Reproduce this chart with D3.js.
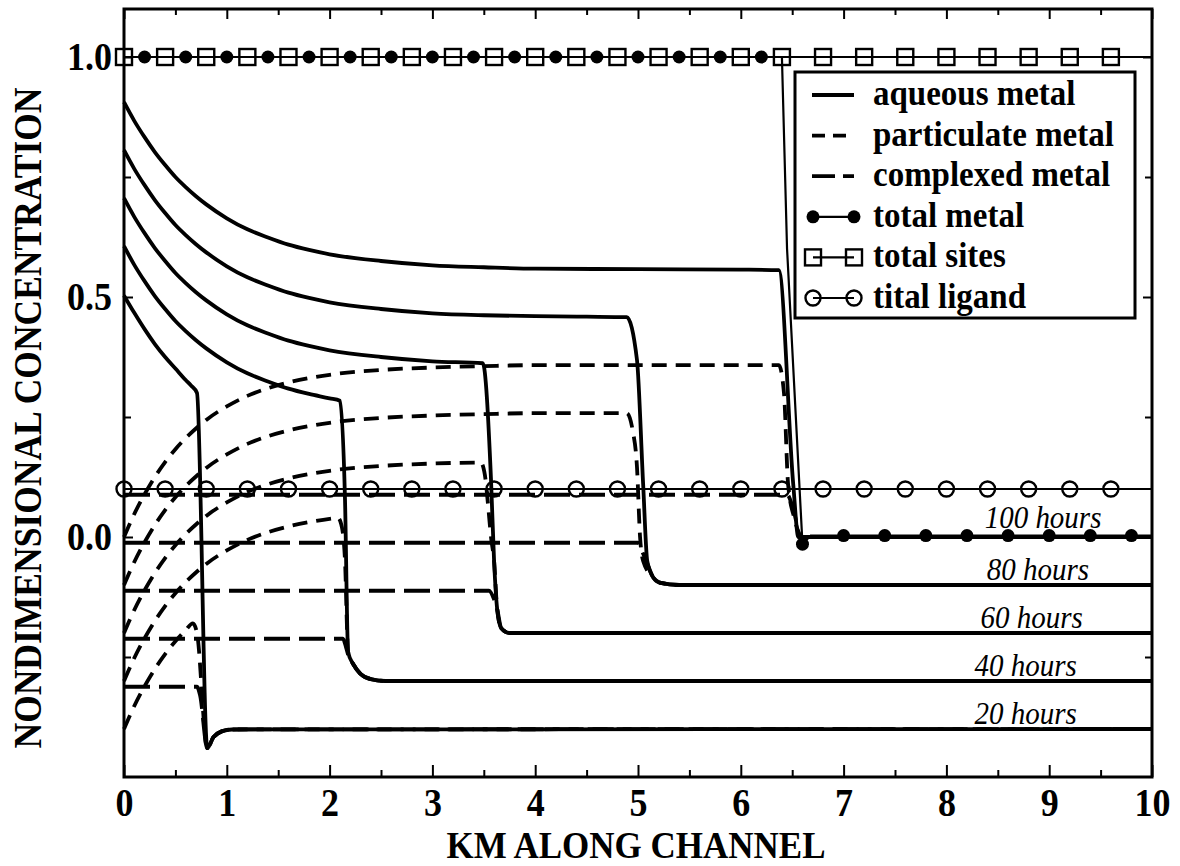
<!DOCTYPE html>
<html>
<head>
<meta charset="utf-8">
<script src="https://cdnjs.cloudflare.com/ajax/libs/d3/7.8.5/d3.min.js"></script>
<style>
  body { margin: 0; background: #fff; }
  svg text { font-family: "Liberation Serif", "Times New Roman", serif; fill: #000; }
</style>
</head>
<body>
<svg id="chart" width="1180" height="866"></svg>
<script>
// ---- data: [km along channel, nondimensional concentration] ----
const hours = ["100 hours", "80 hours", "60 hours", "40 hours", "20 hours"];
const tailLevels = [0.0, -0.1, -0.2, -0.3, -0.4];
const labelKm = [8.94, 8.89, 8.83, 8.77, 8.77];

const aqueous100 = [[0,0.906],[0.1,0.867],[0.2,0.833],[0.3,0.802],[0.4,0.775],[0.5,0.75],[0.6,0.729],[0.7,0.71],[0.8,0.693],[1.0,0.664],[1.2,0.641],[1.4,0.624],[1.6,0.609],[1.8,0.598],[2.0,0.589],[2.5,0.575],[3.0,0.566],[3.5,0.562],[4.0,0.559],[5.0,0.558],[6.0,0.557],[6.37,0.556],[6.51,0.11],[6.56,0.0],[10,0.0]];
const aqueous80 = [[0,0.806],[0.1,0.767],[0.2,0.733],[0.3,0.702],[0.4,0.675],[0.5,0.65],[0.6,0.629],[0.7,0.61],[0.8,0.593],[1.0,0.564],[1.2,0.541],[1.4,0.524],[1.6,0.509],[1.8,0.498],[2.0,0.489],[2.5,0.475],[3.0,0.466],[3.5,0.462],[4.0,0.46],[4.5,0.459],[4.89,0.458],[4.99,0.369],[5.05,0.11],[5.09,-0.05],[5.15,-0.085],[5.21,-0.095],[5.4,-0.1],[10,-0.1]];
const aqueous60 = [[0,0.706],[0.1,0.667],[0.2,0.633],[0.3,0.602],[0.4,0.575],[0.5,0.55],[0.6,0.529],[0.7,0.51],[0.8,0.493],[1.0,0.464],[1.2,0.441],[1.4,0.424],[1.6,0.409],[1.8,0.398],[2.0,0.389],[2.5,0.375],[3.0,0.366],[3.49,0.362],[3.57,0.12],[3.6,-0.05],[3.63,-0.15],[3.67,-0.19],[3.75,-0.2],[10,-0.2]];
const aqueous40 = [[0,0.606],[0.1,0.567],[0.2,0.533],[0.3,0.502],[0.4,0.475],[0.5,0.45],[0.6,0.429],[0.7,0.41],[0.8,0.393],[1.0,0.364],[1.2,0.341],[1.4,0.324],[1.6,0.309],[1.8,0.298],[2.0,0.289],[2.1,0.284],[2.15,0.077],[2.18,-0.24],[2.23,-0.265],[2.3,-0.285],[2.4,-0.296],[2.55,-0.3],[10,-0.3]];
const aqueous20 = [[0,0.503],[0.1,0.467],[0.2,0.433],[0.3,0.402],[0.4,0.375],[0.5,0.351],[0.6,0.327],[0.65,0.316],[0.71,0.3],[0.81,-0.44],[0.87,-0.417],[0.95,-0.405],[1.05,-0.401],[10,-0.4]];

const particulate100 = [[0,0.0],[0.1,0.048],[0.2,0.089],[0.3,0.125],[0.4,0.156],[0.5,0.183],[0.6,0.206],[0.7,0.226],[0.8,0.244],[1.0,0.272],[1.2,0.294],[1.4,0.31],[1.6,0.322],[1.8,0.331],[2.0,0.338],[2.5,0.348],[3.0,0.353],[3.5,0.356],[4.0,0.358],[5.0,0.358],[6.0,0.358],[6.37,0.358],[6.42,0.3],[6.46,0.11],[6.52,0.04],[6.6,0.0],[10,0.0]];
const particulate80 = [[0,-0.1],[0.1,-0.052],[0.2,-0.011],[0.3,0.025],[0.4,0.056],[0.5,0.083],[0.6,0.106],[0.7,0.126],[0.8,0.144],[1.0,0.172],[1.2,0.194],[1.4,0.21],[1.6,0.222],[1.8,0.231],[2.0,0.238],[2.5,0.248],[3.0,0.253],[3.5,0.256],[4.0,0.258],[4.5,0.258],[4.89,0.258],[4.95,0.22],[4.99,0.146],[5.02,0.0],[5.05,-0.05],[5.15,-0.085],[5.21,-0.095],[5.4,-0.1],[10,-0.1]];
const particulate60 = [[0,-0.2],[0.1,-0.152],[0.2,-0.111],[0.3,-0.075],[0.4,-0.044],[0.5,-0.017],[0.6,0.006],[0.7,0.026],[0.8,0.044],[1.0,0.072],[1.2,0.094],[1.4,0.11],[1.6,0.122],[1.8,0.131],[2.0,0.138],[2.5,0.148],[3.0,0.153],[3.47,0.155],[3.51,0.13],[3.54,0.07],[3.57,0.0],[3.6,-0.05],[3.63,-0.15],[3.67,-0.19],[3.75,-0.2],[10,-0.2]];
const particulate40 = [[0,-0.3],[0.1,-0.252],[0.2,-0.211],[0.3,-0.175],[0.4,-0.144],[0.5,-0.117],[0.6,-0.094],[0.7,-0.074],[0.8,-0.056],[1.0,-0.028],[1.2,-0.006],[1.4,0.01],[1.6,0.022],[1.8,0.031],[2.0,0.038],[2.08,0.04],[2.12,0.02],[2.15,-0.05],[2.18,-0.24],[2.23,-0.265],[2.3,-0.285],[2.4,-0.296],[2.55,-0.3],[10,-0.3]];
const particulate20 = [[0,-0.4],[0.1,-0.352],[0.2,-0.311],[0.3,-0.275],[0.4,-0.244],[0.5,-0.217],[0.6,-0.194],[0.67,-0.18],[0.71,-0.2],[0.81,-0.44],[0.87,-0.417],[0.95,-0.405],[1.05,-0.401],[10,-0.4]];

const complexed100 = [[0,0.088],[6.45,0.088],[6.52,0.05],[6.58,0.0],[10,0.0]];
const complexed80 = [[0,-0.012],[5.0,-0.012],[5.04,-0.03],[5.08,-0.05],[5.15,-0.085],[5.21,-0.095],[5.4,-0.1],[10,-0.1]];
const complexed60 = [[0,-0.112],[3.55,-0.112],[3.6,-0.13],[3.63,-0.15],[3.67,-0.19],[3.75,-0.2],[10,-0.2]];
const complexed40 = [[0,-0.212],[2.13,-0.212],[2.16,-0.23],[2.18,-0.245],[2.23,-0.265],[2.3,-0.285],[2.4,-0.296],[2.55,-0.3],[10,-0.3]];
const complexed20 = [[0,-0.312],[0.71,-0.312],[0.74,-0.33],[0.81,-0.44],[0.87,-0.417],[0.95,-0.405],[1.05,-0.401],[10,-0.4]];

const totalMetalLine = [[0,1.0],[6.4,1.0],[6.45,0.6],[6.6,-0.015],[6.68,0.003],[10,0.003]];
const totalMetalDots = [[0.2,1],[0.6,1],[1.0,1],[1.4,1],[1.8,1],[2.2,1],[2.6,1],[3.0,1],[3.4,1],[3.8,1],[4.2,1],[4.6,1],[5.0,1],[5.4,1],[5.8,1],[6.2,1],
  [6.6,-0.015],[7.0,0.003],[7.4,0.003],[7.8,0.003],[8.2,0.003],[8.6,0.003],[9.0,0.003],[9.4,0.003],[9.8,0.003]];
const totalSitesLine = [[0,1.0],[10,1.0]];
const totalSitesMarks = [0,0.4,0.8,1.2,1.6,2.0,2.4,2.8,3.2,3.6,4.0,4.4,4.8,5.2,5.6,6.0,6.4,6.8,7.2,7.6,8.0,8.4,8.8,9.2,9.6];
const totalSitesLevel = 1.0;
const totalLigandLine = [[0,0.1],[10,0.1]];
const totalLigandMarks = [0,0.4,0.8,1.2,1.6,2.0,2.4,2.8,3.2,3.6,4.0,4.4,4.8,5.2,5.6,6.0,6.4,6.8,7.2,7.6,8.0,8.4,8.8,9.2,9.6];
const totalLigandLevel = 0.1;

const aqueousSeries = [aqueous100, aqueous80, aqueous60, aqueous40, aqueous20];
const particulateSeries = [particulate100, particulate80, particulate60, particulate40, particulate20];
const complexedSeries = [complexed100, complexed80, complexed60, complexed40, complexed20];

const xTicks = [0,1,2,3,4,5,6,7,8,9,10];
const xMinorTicks = [0.5,1.5,2.5,3.5,4.5,5.5,6.5,7.5,8.5,9.5];
const yTicks = [0.0, 0.5, 1.0];
const yMinorTicks = [-0.25, 0.25, 0.75];
const legendLabels = ["aqueous metal", "particulate metal", "complexed metal", "total metal", "total sites", "tital ligand"];

// ---- layout ----
const W = 1180, H = 866;
const plot = { left: 124, right: 1152, top: 9, bottom: 777 };
const SERIF = '"Liberation Serif", "Times New Roman", serif';
const svg = d3.select("#chart");
svg.append("rect").attr("width", W).attr("height", H).attr("fill", "#fff");

const x = d3.scaleLinear().domain([0, 10]).range([plot.left, plot.right]);
const y = d3.scaleLinear().domain([-0.5, 1.1]).range([plot.bottom, plot.top]);

const smooth = d3.line().x(d => x(d[0])).y(d => y(d[1])).curve(d3.curveMonotoneX);
const straight = d3.line().x(d => x(d[0])).y(d => y(d[1]));

const STROKE = 3.8;
const DASH_PART = "15,9";
const DASH_COMP = "26,9";

const g = svg.append("g");

// total sites and total ligand reference lines
g.append("path").attr("d", straight(totalSitesLine)).attr("fill", "none").attr("stroke", "#000").attr("stroke-width", 2.2);
g.append("path").attr("d", straight(totalLigandLine)).attr("fill", "none").attr("stroke", "#000").attr("stroke-width", 2.2);

// complexed metal (long dash)
g.selectAll("path.comp").data(complexedSeries).join("path").attr("class", "comp")
  .attr("d", smooth).attr("fill", "none").attr("stroke", "#000")
  .attr("stroke-width", STROKE).attr("stroke-dasharray", DASH_COMP);

// particulate metal (short dash)
g.selectAll("path.part").data(particulateSeries).join("path").attr("class", "part")
  .attr("d", smooth).attr("fill", "none").attr("stroke", "#000")
  .attr("stroke-width", STROKE).attr("stroke-dasharray", DASH_PART);

// aqueous metal (solid)
g.selectAll("path.aq").data(aqueousSeries).join("path").attr("class", "aq")
  .attr("d", smooth).attr("fill", "none").attr("stroke", "#000")
  .attr("stroke-width", STROKE).attr("stroke-linejoin", "round");

// total metal
g.append("path").attr("d", straight(totalMetalLine)).attr("fill", "none")
  .attr("stroke", "#000").attr("stroke-width", 2.2);
g.selectAll("circle.tm").data(totalMetalDots).join("circle").attr("class", "tm")
  .attr("cx", d => x(d[0])).attr("cy", d => y(d[1])).attr("r", 6.5).attr("fill", "#000");

// total sites (open squares)
const SQ = 16;
g.selectAll("rect.ts").data(totalSitesMarks).join("rect").attr("class", "ts")
  .attr("x", d => x(d) - SQ / 2).attr("y", y(totalSitesLevel) - SQ / 2)
  .attr("width", SQ).attr("height", SQ)
  .attr("fill", "none").attr("stroke", "#000").attr("stroke-width", 2.4);

// total ligand (open circles)
g.selectAll("circle.tl").data(totalLigandMarks).join("circle").attr("class", "tl")
  .attr("cx", d => x(d)).attr("cy", y(totalLigandLevel)).attr("r", 7.5)
  .attr("fill", "none").attr("stroke", "#000").attr("stroke-width", 2.4);

// time labels on the downstream plateaus
g.selectAll("g.hr").data(hours).join("g").attr("class", "hr")
  .attr("transform", (d, i) => `translate(${x(labelKm[i])},${y(tailLevels[i]) - (i === 0 ? 9 : 5)})`)
  .append("text").attr("transform", "scale(1,1.08)")
  .attr("text-anchor", "middle").attr("font-style", "italic")
  .attr("font-size", 29).text(d => d);

// ---- axes ----
const axes = svg.append("g");
function styleAxis(sel) {
  sel.select(".domain").remove();
  sel.selectAll(".tick line").attr("stroke", "#000").attr("stroke-width", 2);
}
const tickFont = sel => sel.selectAll("text").attr("font-family", SERIF)
  .attr("font-weight", "bold").attr("font-size", 36).attr("fill", "#000")
  .attr("transform", "scale(1,1.1)");

axes.append("g").attr("transform", `translate(0,${plot.bottom})`)
  .call(d3.axisBottom(x).tickValues(xTicks).tickSize(-12).tickPadding(10).tickFormat(d3.format("d")))
  .call(styleAxis).call(tickFont);
axes.append("g").attr("transform", `translate(0,${plot.bottom})`)
  .call(d3.axisBottom(x).tickValues(xMinorTicks).tickSize(-7).tickFormat(""))
  .call(styleAxis);
axes.append("g").attr("transform", `translate(0,${plot.top})`)
  .call(d3.axisTop(x).tickValues(xTicks).tickSize(-10).tickFormat(""))
  .call(styleAxis);
axes.append("g").attr("transform", `translate(0,${plot.top})`)
  .call(d3.axisTop(x).tickValues(xMinorTicks).tickSize(-6).tickFormat(""))
  .call(styleAxis);

axes.append("g").attr("transform", `translate(${plot.left},0)`)
  .call(d3.axisLeft(y).tickValues(yTicks).tickSize(-9).tickPadding(12).tickFormat(d3.format(".1f")))
  .call(styleAxis).call(tickFont);
axes.append("g").attr("transform", `translate(${plot.left},0)`)
  .call(d3.axisLeft(y).tickValues(yMinorTicks).tickSize(-7).tickFormat(""))
  .call(styleAxis);
axes.append("g").attr("transform", `translate(${plot.right},0)`)
  .call(d3.axisRight(y).tickValues(yTicks).tickSize(-9).tickFormat(""))
  .call(styleAxis);
axes.append("g").attr("transform", `translate(${plot.right},0)`)
  .call(d3.axisRight(y).tickValues(yMinorTicks).tickSize(-7).tickFormat(""))
  .call(styleAxis);

// frame
axes.append("rect").attr("x", plot.left).attr("y", plot.top)
  .attr("width", plot.right - plot.left).attr("height", plot.bottom - plot.top)
  .attr("fill", "none").attr("stroke", "#000").attr("stroke-width", 3);

// axis titles
svg.append("g").attr("transform", `translate(636,858)`)
  .append("text").attr("transform", "scale(1,1.1)")
  .attr("text-anchor", "middle").attr("font-weight", "bold").attr("font-size", 35)
  .text("KM ALONG CHANNEL");
svg.append("g").attr("transform", `translate(27,418) rotate(-90)`)
  .append("text").attr("transform", "scale(1,1.15)").attr("dy", "0.35em")
  .attr("text-anchor", "middle").attr("font-weight", "bold").attr("font-size", 35.5)
  .text("NONDIMENSIONAL CONCENTRATION");

// ---- legend ----
const lg = svg.append("g");
const box = { x: 795, y: 72, w: 340, h: 246 };
lg.append("rect").attr("x", box.x).attr("y", box.y).attr("width", box.w).attr("height", box.h)
  .attr("fill", "#fff").attr("stroke", "#000").attr("stroke-width", 3);
const rowY = i => box.y + 23 + i * 40.6;
const s0 = 813, s1 = 854;
legendLabels.forEach((lab, i) => {
  const yy = rowY(i);
  const row = lg.append("g");
  if (i < 3) {
    row.append("line").attr("x1", s0 - 1).attr("x2", s1).attr("y1", yy).attr("y2", yy)
      .attr("stroke", "#000").attr("stroke-width", STROKE)
      .attr("stroke-dasharray", i === 0 ? null : (i === 1 ? "13,8" : "23,8"));
  } else {
    row.append("line").attr("x1", s0).attr("x2", s1).attr("y1", yy).attr("y2", yy)
      .attr("stroke", "#000").attr("stroke-width", 2.2);
    [s0, s1].forEach(sx => {
      if (i === 3) row.append("circle").attr("cx", sx).attr("cy", yy).attr("r", 6.5).attr("fill", "#000");
      if (i === 4) row.append("rect").attr("x", sx - SQ / 2).attr("y", yy - SQ / 2).attr("width", SQ).attr("height", SQ)
        .attr("fill", "none").attr("stroke", "#000").attr("stroke-width", 2.4);
      if (i === 5) row.append("circle").attr("cx", sx).attr("cy", yy).attr("r", 7.5)
        .attr("fill", "none").attr("stroke", "#000").attr("stroke-width", 2.4);
    });
  }
  row.append("g").attr("transform", `translate(873,${yy + 10})`)
    .append("text").attr("transform", "scale(1,1.08)").attr("font-weight", "bold")
    .attr("font-size", 33).text(lab);
});
</script>
</body>
</html>
